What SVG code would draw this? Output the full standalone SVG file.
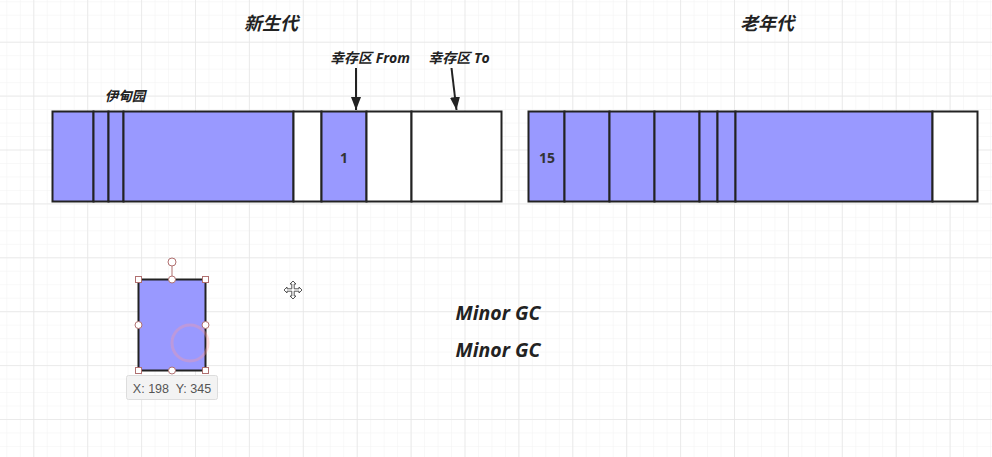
<svg xmlns="http://www.w3.org/2000/svg" width="992" height="457" viewBox="0 0 992 457">
<defs>
<pattern id="minor" x="33.3" y="41.7" width="13.475" height="13.475" patternUnits="userSpaceOnUse">
<path d="M0 0 H13.475 M0 0 V13.475" fill="none" stroke="#f2f2f2" stroke-width="1"/>
</pattern>
<pattern id="major" x="33.3" y="41.7" width="53.9" height="53.9" patternUnits="userSpaceOnUse">
<path d="M0 0 H53.9 M0 0 V53.9" fill="none" stroke="#e6e6e6" stroke-width="1.5"/>
</pattern>
<marker id="ah" viewBox="0 0 13 10" refX="13" refY="5" markerWidth="13" markerHeight="10" markerUnits="userSpaceOnUse" orient="auto">
<path d="M0 0 L13 5 L0 10 Z" fill="#222"/>
</marker>
</defs>
<style>
.b{fill:#9999ff;stroke:#222;stroke-width:2}
.w{fill:#ffffff;stroke:#222;stroke-width:2}
.t{font-family:"Open Sans","Noto Sans CJK SC",sans-serif;font-weight:bold;font-style:italic;fill:#222;text-anchor:middle}
.n{font-family:"Open Sans","Noto Sans CJK SC",sans-serif;font-weight:bold;fill:#333;text-anchor:middle;font-size:14px}
.h{fill:#fff;stroke:#b07070;stroke-width:1}
</style>
<rect width="992" height="457" fill="#ffffff"/>
<rect width="992" height="457" fill="url(#minor)"/>
<rect width="992" height="457" fill="url(#major)"/>

<g id="title-young"><text class="t" x="271" y="30" font-size="18">新生代</text></g>
<g id="title-old"><text class="t" x="767" y="30" font-size="18">老年代</text></g>
<g id="label-eden"><text class="t" x="125" y="101" font-size="13.5">伊甸园</text></g>
<g id="label-from"><text class="t" x="370" y="63" font-size="14">幸存区 From</text></g>
<g id="label-to"><text class="t" x="459" y="63" font-size="14">幸存区 To</text></g>

<g id="young-gen">
<rect class="b" x="52.5" y="111.5" width="41" height="90"/>
<rect class="b" x="93.5" y="111.5" width="15" height="90"/>
<rect class="b" x="108.5" y="111.5" width="15" height="90"/>
<rect class="b" x="123.5" y="111.5" width="170" height="90"/>
<rect class="w" x="293.5" y="111.5" width="28" height="90"/>
<g id="from-cell">
<rect class="b" x="321.5" y="111.5" width="45" height="90"/>
<text class="n" x="344" y="163">1</text>
</g>
<rect class="w" x="366.5" y="111.5" width="45" height="90"/>
<rect class="w" x="411.5" y="111.5" width="90" height="90"/>
</g>

<g id="old-gen">
<g id="old-cell-15">
<rect class="b" x="528.5" y="111.5" width="36" height="90"/>
<text class="n" x="547" y="163">15</text>
</g>
<rect class="b" x="564.5" y="111.5" width="45" height="90"/>
<rect class="b" x="609.5" y="111.5" width="45" height="90"/>
<rect class="b" x="654.5" y="111.5" width="45" height="90"/>
<rect class="b" x="699.5" y="111.5" width="18" height="90"/>
<rect class="b" x="717.5" y="111.5" width="18" height="90"/>
<rect class="b" x="735.5" y="111.5" width="197" height="90"/>
<rect class="w" x="932.5" y="111.5" width="45" height="90"/>
</g>

<g id="connectors" stroke="#222" stroke-width="2" fill="none">
<line x1="356" y1="68" x2="356" y2="110" marker-end="url(#ah)"/>
<line x1="451.5" y1="68" x2="456.5" y2="110" marker-end="url(#ah)"/>
</g>

<g id="selected-block">
<rect class="b" x="138.5" y="279.5" width="67" height="91"/>
<circle cx="190" cy="343" r="18" fill="none" stroke="#ff9a9a" stroke-opacity="0.35" stroke-width="3"/>
<line x1="172" y1="266" x2="172" y2="279.5" stroke="#b07070" stroke-width="1"/>
<circle class="h" cx="172" cy="262" r="4"/>
<rect class="h" x="135.5" y="276.5" width="6" height="6"/>
<rect class="h" x="202.5" y="276.5" width="6" height="6"/>
<rect class="h" x="135.5" y="367.5" width="6" height="6"/>
<rect class="h" x="202.5" y="367.5" width="6" height="6"/>
<circle class="h" cx="172" cy="279.5" r="3.5"/>
<circle class="h" cx="172" cy="370.5" r="3.5"/>
<circle class="h" cx="138.5" cy="325" r="3.5"/>
<circle class="h" cx="205.5" cy="325" r="3.5"/>
</g>

<g id="tooltip">
<rect x="126.5" y="375.5" width="91" height="24" rx="2" fill="#f3f3f3" stroke="#dddddd"/>
<text x="172" y="393" font-family="'Liberation Sans',Arial,sans-serif" font-size="12.5" fill="#555" text-anchor="middle" xml:space="preserve">X: 198  Y: 345</text>
</g>

<g id="move-cursor" transform="translate(293,290)" fill="#fff" stroke="#444" stroke-width="0.9">
<path d="M0 -9 L3 -6 L1.2 -6 L1.2 -1.2 L6 -1.2 L6 -3 L9 0 L6 3 L6 1.2 L1.2 1.2 L1.2 6 L3 6 L0 9 L-3 6 L-1.2 6 L-1.2 1.2 L-6 1.2 L-6 3 L-9 0 L-6 -3 L-6 -1.2 L-1.2 -1.2 L-1.2 -6 L-3 -6 Z"/>
</g>

<g id="minor-gc-1"><text class="t" x="498" y="320" font-size="19.5">Minor GC</text></g>
<g id="minor-gc-2"><text class="t" x="498" y="357" font-size="19.5">Minor GC</text></g>
</svg>
